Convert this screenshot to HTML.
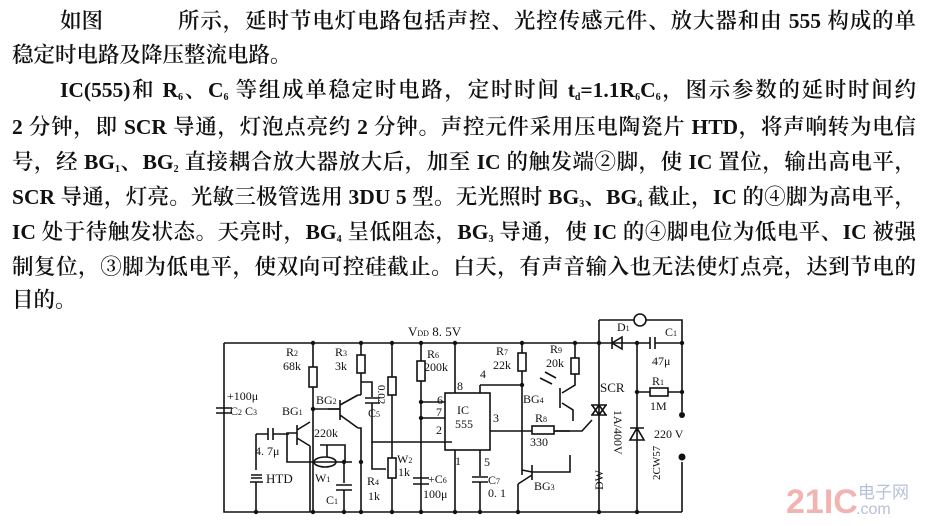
<!DOCTYPE html>
<html><head><meta charset="utf-8"><style>
html,body{margin:0;padding:0;background:#fff;}
body{width:926px;height:526px;position:relative;overflow:hidden;font-family:"Liberation Serif","Noto Serif CJK SC","Noto Sans CJK SC",serif;color:#111;}
.l{position:absolute;font-size:21.5px;line-height:26px;white-space:nowrap;text-align:justify;text-align-last:justify;height:28px;overflow:hidden;font-weight:600;}
.n{text-align:left;text-align-last:left}
sub{font-size:10px;vertical-align:-3px;line-height:0}
svg{position:absolute;left:0;top:0}
</style></head><body>
<div class="l n" style="left:60px;top:8px;width:60px">如图</div>
<div class="l" style="left:178px;top:8px;width:738px">所示，延时节电灯电路包括声控、光控传感元件、放大器和由 555 构成的单</div>
<div class="l n" style="left:12px;top:42px;width:330px">稳定时电路及降压整流电路。</div>
<div class="l" style="left:60px;top:77px;width:856px">IC(555)和 R<sub>6</sub>、C<sub>6</sub> 等组成单稳定时电路，定时时间 t<sub>d</sub>=1.1R<sub>6</sub>C<sub>6</sub>，图示参数的延时时间约</div>
<div class="l" style="left:12px;top:114px;width:904px">2 分钟，即 SCR 导通，灯泡点亮约 2 分钟。声控元件采用压电陶瓷片 HTD，将声响转为电信</div>
<div class="l" style="left:12px;top:149px;width:904px">号，经 BG<sub>1</sub>、BG<sub>2</sub> 直接耦合放大器放大后，加至 IC 的触发端②脚，使 IC 置位，输出高电平，</div>
<div class="l" style="left:12px;top:184px;width:904px">SCR 导通，灯亮。光敏三极管选用 3DU 5 型。无光照时 BG<sub>3</sub>、BG<sub>4</sub> 截止，IC 的④脚为高电平，</div>
<div class="l" style="left:12px;top:219px;width:904px">IC 处于待触发状态。天亮时，BG<sub>4</sub> 呈低阻态，BG<sub>3</sub> 导通，使 IC 的④脚电位为低电平、IC 被强</div>
<div class="l" style="left:12px;top:254px;width:904px">制复位，③脚为低电平，使双向可控硅截止。白天，有声音输入也无法使灯点亮，达到节电的</div>
<div class="l n" style="left:12px;top:287px;width:80px">目的。</div>

<svg width="926" height="526" viewBox="0 0 926 526" font-family="Liberation Serif,serif" font-size="12" fill="#111">
<g stroke="#111" stroke-width="1.6" fill="none">
<path d="M224 343H599M224 343V512H682"/>
<path d="M216 408H232M216 413H232"/>
<path d="M313 343V512"/><rect x="309" y="367" width="8" height="20" fill="#fff"/>
<path d="M313 409H340"/>
<path d="M297 425V445M289 433H297M297 430L310 422M297 438L310 446M310 446V512"/>
<path d="M289 433H287V462H352"/>
<path d="M256 434H268M268 428V440M273 428V440M273 434H289"/>
<path d="M256 434V455M251 475H262M251 478H262M250 482H263M256 482V512M256 455V470"/>
<ellipse cx="325" cy="462" rx="11" ry="5"/>
<path d="M327 445V457M320 445H345V462"/>
<path d="M344 462V483M336 485H352M336 490H352M344 490V512"/>
<path d="M340 400V420M340 409L328 409M340 405L358 395M340 415L358 428M361 343V395M358 395H361M358 428H361V512"/>
<rect x="357" y="355" width="8" height="18" fill="#fff"/>
<path d="M361 382H372V397M365 398H380M365 403H380M372 403V442H452"/>
<path d="M392 343V512"/><rect x="388" y="377" width="8" height="18" fill="#fff"/>
<rect x="388" y="458" width="8" height="20" fill="#fff"/>
<path d="M372 442V469H386"/>
<path d="M421 343V512"/><rect x="417" y="361" width="8" height="20" fill="#fff"/>
<path d="M413 478H429M413 484H429"/>
<path d="M421 402H445M421 418H445"/>
<path d="M455 343V393M480 385H522M480 385V393"/>
<rect x="445" y="393" width="45" height="57"/>
<path d="M455 450V512M480 450V476M472 477H488M472 482H488M480 482V512"/>
<path d="M490 431H570"/>
<path d="M522 343V475"/><rect x="518" y="353" width="8" height="18" fill="#fff"/>
<path d="M532 465V480M522 470L532 472M532 475L518 484M518 484V512M532 472H570V455"/>
<rect x="532" y="426" width="22" height="8" fill="#fff"/>
<path d="M554 431H582L592 420"/>
<path d="M575 343V360"/><rect x="571" y="358" width="8" height="16" fill="#fff"/>
<path d="M575 374V385L562 393M560 388V408M562 403L573 410V421"/>
<path d="M540 378L552 384M545 372L556 378"/>
<path d="M599 320V512M591 405H607M591 415H607M592 415L599 405L606 415M592 405L599 415L606 405"/>
<path d="M599 320H682V343M599 343H650M650 337V349M655 337V349M655 343H682V400"/>
<circle cx="640" cy="320" r="6" fill="#fff"/>
<path d="M612 343L622 337V349Z"/><path d="M612 337V349"/>
<path d="M637 343V512M630 440H644L637 428Z M630 428H644"/>
<path d="M637 392H650M668 392H682"/><rect x="650" y="388" width="18" height="8" fill="#fff"/>
<path d="M682 400V412M682 462V512"/>
</g>
<g fill="#111">
<circle cx="313" cy="343" r="2.2"/><circle cx="361" cy="343" r="2.2"/><circle cx="392" cy="343" r="2.2"/><circle cx="421" cy="343" r="2.2"/><circle cx="455" cy="343" r="2.2"/><circle cx="522" cy="343" r="2.2"/><circle cx="575" cy="343" r="2.2"/>
<circle cx="313" cy="512" r="2.2"/><circle cx="344" cy="512" r="2.2"/><circle cx="361" cy="512" r="2.2"/><circle cx="392" cy="512" r="2.2"/><circle cx="421" cy="512" r="2.2"/><circle cx="455" cy="512" r="2.2"/><circle cx="480" cy="512" r="2.2"/><circle cx="518" cy="512" r="2.2"/><circle cx="599" cy="512" r="2.2"/><circle cx="637" cy="512" r="2.2"/><circle cx="256" cy="512" r="2.2"/>
<circle cx="313" cy="409" r="2.2"/><circle cx="344" cy="462" r="2.2"/><circle cx="361" cy="462" r="2.2"/><circle cx="421" cy="402" r="2.2"/><circle cx="421" cy="418" r="2.2"/><circle cx="522" cy="385" r="2.2"/><circle cx="599" cy="343" r="2.2"/><circle cx="637" cy="343" r="2.2"/><circle cx="637" cy="392" r="2.2"/><circle cx="682" cy="392" r="2.2"/><circle cx="682" cy="343" r="2.2"/>
<circle cx="682" cy="415" r="3" /><circle cx="682" cy="457" r="3.5"/>
</g>
<text x="408" y="336" font-size="13">V<tspan font-size="8">DD</tspan> 8. 5V</text>
<text x="286" y="356">R<tspan font-size="8">2</tspan></text><text x="283" y="370">68k</text>
<text x="335" y="356">R<tspan font-size="8">3</tspan></text><text x="335" y="370">3k</text>
<text x="427" y="358">R<tspan font-size="8">6</tspan></text><text x="424" y="371">200k</text>
<text x="496" y="355">R<tspan font-size="8">7</tspan></text><text x="493" y="369">22k</text>
<text x="550" y="353">R<tspan font-size="8">9</tspan></text><text x="546" y="367">20k</text>
<text x="227" y="400">+100μ</text><text x="230" y="415">C<tspan font-size="8">2</tspan> C<tspan font-size="8">3</tspan></text>
<text x="282" y="415">BG<tspan font-size="8">1</tspan></text><text x="316" y="404">BG<tspan font-size="8">2</tspan></text>
<text x="314" y="437">220k</text><text x="255" y="455">4. 7μ</text><text x="266" y="483" font-size="13">HTD</text>
<text x="315" y="482">W<tspan font-size="8">1</tspan></text><text x="326" y="504">C<tspan font-size="8">1</tspan></text>
<text x="368" y="417">C<tspan font-size="8">5</tspan></text><text x="378" y="385" font-size="11" transform="rotate(90 378 385)">0.02</text>
<text x="397" y="463">W<tspan font-size="8">2</tspan></text><text x="398" y="476">1k</text>
<text x="367" y="485">R<tspan font-size="8">4</tspan></text><text x="368" y="500">1k</text>
<text x="428" y="483">+C<tspan font-size="8">6</tspan></text><text x="423" y="498">100μ</text>
<text x="457" y="414" font-size="12">IC</text><text x="455" y="428" font-size="12">555</text>
<text x="437" y="404">6</text><text x="436" y="416">7</text><text x="436" y="434">2</text><text x="457" y="390">8</text><text x="480" y="378">4</text><text x="493" y="422">3</text><text x="455" y="465">1</text><text x="484" y="466">5</text>
<text x="488" y="484">C<tspan font-size="8">7</tspan></text><text x="488" y="497">0. 1</text>
<text x="534" y="490">BG<tspan font-size="8">3</tspan></text>
<text x="523" y="403">BG<tspan font-size="8">4</tspan></text>
<text x="535" y="422">R<tspan font-size="8">8</tspan></text><text x="530" y="446">330</text>
<text x="600" y="392" font-size="13">SCR</text>
<text x="614" y="410" font-size="12" transform="rotate(90 614 410)">1A/400V</text>
<text x="617" y="331">D<tspan font-size="8">1</tspan></text><text x="665" y="336">C<tspan font-size="8">1</tspan></text>
<text x="652" y="365">47μ</text><text x="652" y="385">R<tspan font-size="8">1</tspan></text><text x="650" y="410">1M</text>
<text x="654" y="438">220 V</text>
<text x="648" y="445" font-size="12" transform="rotate(-90 648 490)">DW</text>
<text x="660" y="480" font-size="11" transform="rotate(-90 660 480)">2CW57</text>
<text x="786" y="513" font-size="34" font-weight="bold" font-family="Liberation Sans,sans-serif" fill="#f2b3b3">21IC</text>
<text x="858" y="498" font-size="17" font-family="Liberation Sans,Noto Sans CJK SC,sans-serif" fill="#b8bfd8">电子网</text>
<text x="856" y="514" font-size="16" font-family="Liberation Sans,sans-serif" fill="#b8bfd8">.com</text>
</svg>
</body></html>
